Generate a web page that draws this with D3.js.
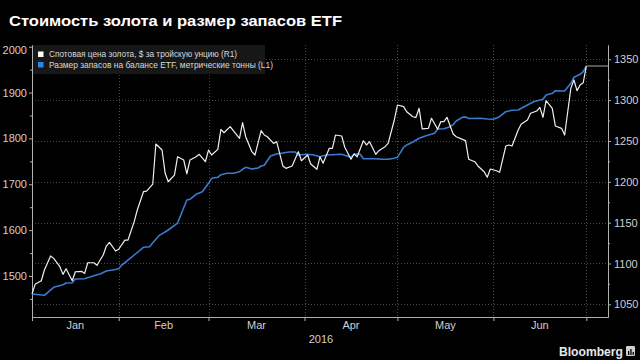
<!DOCTYPE html>
<html><head><meta charset="utf-8">
<script src="https://cdn.jsdelivr.net/npm/d3@7"></script>
<style>
html,body{margin:0;padding:0;background:#000;}
svg{display:block;font-family:"Liberation Sans",Arial,sans-serif;}
</style></head>
<body>
<svg id="c" width="640" height="360"></svg>
<script>
// ---------- data ----------
const titleText = "Стоимость золота и размер запасов ETF";
const legendGold = "Спотовая цена золота, $ за тройскую унцию (R1)";
const legendEtf = "Размер запасов на балансе ETF, метрические тонны (L1)";
const yearLabel = "2016";
const monthLabels = ["Jan","Feb","Mar","Apr","May","Jun"];
const monthStarts = ["2016-01-01","2016-02-01","2016-03-01","2016-04-01","2016-05-01","2016-06-01","2016-07-01"];
const leftTicks = [1500,1600,1700,1800,1900,2000];
const leftMinor = [1450,1550,1650,1750,1850,1950];
const rightTicks = [1050,1100,1150,1200,1250,1300,1350];
const rightMinor = [1075,1125,1175,1225,1275,1325];
const xDomain = ["2016-01-04","2016-07-08"];
const leftDomain = [1410.6, 2003.7];
const rightDomain = [1034.5, 1367.5];

const etfDates = ["01-04","01-08","01-11","01-14","01-15","01-17","01-18","01-21","01-23","01-25","01-26","01-28","01-30",
"02-01","02-02","02-03","02-05","02-06","02-09","02-11","02-12","02-14","02-17","02-20","02-23","02-24","02-26","02-28",
"03-01","03-02","03-04","03-05","03-07","03-09","03-11","03-12","03-13","03-15","03-17","03-18","03-19","03-21","03-23","03-25","03-27","03-29","03-30",
"04-02","04-04","04-06","04-08","04-13","04-14","04-16","04-17","04-19","04-20","04-24","04-26","04-28","04-30",
"05-01","05-03","05-04","05-06","05-08","05-10","05-13","05-14","05-16","05-18","05-19","05-20","05-22","05-23","05-24","05-28","05-30",
"06-01","06-03","06-05","06-07","06-09","06-12","06-14","06-17","06-18","06-20","06-21","06-23","06-24","06-26","06-27","06-29","06-30","07-01"];
const etfValues = [1460.7,1457.9,1475.4,1481.0,1484.7,1485.4,1493.5,1494.1,1498.5,1502.8,1504.4,1510.9,1513.1,
1516.0,1524.0,1529.0,1539.9,1545.8,1562.6,1563.9,1572.6,1587.9,1600.3,1615.5,1665.7,1667.2,1678.1,1683.8,
1702.1,1713.0,1715.2,1720.9,1723.9,1723.9,1727.4,1732.7,1737.0,1733.3,1735.5,1739.9,1741.4,1761.7,1766.0,1768.2,1770.4,1770.4,1763.8,
1765.4,1763.8,1760.1,1763.8,1765.4,1763.2,1758.8,1766.0,1765.4,1755.8,1755.8,1754.5,1754.5,1756.7,
1758.8,1780.6,1785.7,1792.2,1800.3,1805.3,1811.2,1820.5,1821.2,1825.6,1830.0,1838.0,1846.1,1847.0,1843.5,1843.9,1842.3,
1841.7,1847.4,1858.3,1861.3,1862.0,1872.9,1880.1,1885.3,1894.7,1898.4,1904.1,1903.4,1903.4,1920.2,1933.3,1939.8,1945.5,1957.9];

const goldDates = ["01-04","01-05","01-07","01-08","01-10","01-11","01-13","01-14","01-15","01-17","01-18","01-20","01-21","01-22","01-24","01-25","01-27","01-28","01-29","01-31",
"02-01","02-03","02-04","02-06","02-07","02-09","02-10","02-12","02-13","02-15","02-16","02-17","02-19","02-20","02-22","02-23","02-24","02-26","02-27","02-29",
"03-01","03-02","03-04","03-05","03-06","03-08","03-09","03-11","03-12","03-13","03-15","03-16","03-18","03-19","03-20","03-22","03-23","03-25","03-26","03-28","03-30","03-31",
"04-02","04-03","04-05","04-06","04-07","04-09","04-10","04-11","04-13","04-14","04-16","04-17","04-18","04-20","04-21","04-22","04-24","04-25","04-27","04-28","04-30",
"05-01","05-03","05-04","05-06","05-07","05-08","05-09","05-11","05-12","05-14","05-15","05-16","05-17","05-19","05-20","05-22","05-23","05-24","05-26","05-27","05-29","05-30","05-31",
"06-02","06-03","06-05","06-06","06-07","06-09","06-10","06-12","06-13","06-15","06-16","06-17","06-18","06-20","06-21","06-23","06-24","06-26","06-27","06-28","06-29","06-30","07-01"];
const goldValues = [1062.6,1074.5,1078.9,1092.0,1109.2,1106.3,1096.1,1086.7,1093.6,1078.9,1089.9,1090.4,1087.9,1100.9,1100.9,1097.8,1110.4,1121.4,1125.9,1115.3,
1117.4,1128.7,1128.7,1151.2,1165.5,1187.9,1188.7,1197.3,1246.3,1239.0,1210.4,1200.1,1208.3,1230.7,1226.7,1209.6,1226.7,1230.7,1233.7,1224.6,
1238.9,1232.8,1239.7,1264.3,1260.1,1267.5,1262.6,1253.3,1272.4,1255.2,1236.9,1232.8,1262.6,1257.3,1255.2,1247.1,1249.1,1219.4,1216.5,1219.4,1236.9,1225.8,
1232.8,1221.8,1215.3,1230.7,1222.7,1241.0,1241.0,1257.3,1256.1,1242.3,1227.6,1234.0,1230.7,1250.3,1245.1,1249.1,1233.7,1238.1,1243.0,1247.1,1275.7,
1294.0,1292.0,1285.8,1279.7,1279.0,1290.0,1264.7,1265.5,1277.8,1264.3,1273.6,1273.6,1279.0,1258.5,1255.2,1252.0,1250.5,1227.7,1224.6,1219.4,1212.4,1205.5,1215.7,
1213.6,1211.6,1243.8,1245.1,1243.8,1263.4,1270.8,1275.7,1283.9,1286.7,1291.2,1279.0,1299.3,1290.0,1268.3,1265.5,1257.3,1314.5,1324.7,1311.6,1318.5,1321.3,1341.8];

// ---------- chart ----------
const parse = d3.timeParse("%Y-%m-%d");
const pd = s => parse("2016-" + s);
const etf = etfDates.map((d,i)=>({date:pd(d), v:etfValues[i]}));
const gold = goldDates.map((d,i)=>({date:pd(d), v:goldValues[i]}));

const L = 32, R = 608, T = 45, B = 317;
const svg = d3.select("#c");
svg.append("rect").attr("width",640).attr("height",360).attr("fill","#000");

const x = d3.scaleTime().domain(xDomain.map(parse)).range([L,R]);
const yL = d3.scaleLinear().domain(leftDomain).range([B,T]);
const yR = d3.scaleLinear().domain(rightDomain).range([B,T]);
const months = monthStarts.map(parse);

// title
svg.append("text").attr("x",9).attr("y",26).attr("fill","#fff")
  .attr("font-size",15).attr("font-weight","bold")
  .attr("textLength",333).attr("lengthAdjust","spacingAndGlyphs").text(titleText);

// gridlines
const grid = svg.append("g").attr("stroke","#4a4a4a").attr("stroke-width",1).attr("stroke-dasharray","1,2");
rightTicks.forEach(t=>{
  grid.append("line").attr("x1",L).attr("x2",R).attr("y1",Math.round(yR(t))+0.5).attr("y2",Math.round(yR(t))+0.5);
});
months.slice(1).forEach(m=>{
  const xx = Math.round(x(m))+0.5;
  grid.append("line").attr("x1",xx).attr("x2",xx).attr("y1",T).attr("y2",B);
});

// legend
const lg = svg.append("g");
lg.append("rect").attr("x",33).attr("y",45).attr("width",232).attr("height",29).attr("fill","#171717");
lg.append("rect").attr("x",38).attr("y",51.5).attr("width",5.5).attr("height",5.5).attr("fill","#fff");
lg.append("rect").attr("x",38).attr("y",62).attr("width",5.5).attr("height",5.5).attr("fill","#2b8ae8");
lg.append("text").attr("x",49).attr("y",57).attr("fill","#d8d8d8").attr("font-size",9)
  .attr("textLength",188).attr("lengthAdjust","spacingAndGlyphs").text(legendGold);
lg.append("text").attr("x",49).attr("y",67.5).attr("fill","#d8d8d8").attr("font-size",9)
  .attr("textLength",224).attr("lengthAdjust","spacingAndGlyphs").text(legendEtf);

// axes
const axisColor = "#b0b0b0", labelColor = "#d0d0d0";
function styleAxis(g){
  g.select(".domain").attr("stroke",axisColor);
  g.selectAll(".tick line").attr("stroke",axisColor);
  g.selectAll(".tick text").attr("fill",labelColor).attr("font-size",11).attr("font-family","Liberation Sans, Arial, sans-serif");
}
const gl = svg.append("g").attr("transform",`translate(${L},0)`)
  .call(d3.axisLeft(yL).tickValues(leftTicks).tickSize(3).tickPadding(2).tickSizeOuter(0).tickFormat(d3.format("d")));
styleAxis(gl);
gl.selectAll(".tick text").filter(d=>d===2000).attr("dy","0.65em");
const glm = svg.append("g").attr("transform",`translate(${L},0)`)
  .call(d3.axisLeft(yL).tickValues(leftMinor).tickSize(2).tickSizeOuter(0).tickFormat(""));
styleAxis(glm);

const gr = svg.append("g").attr("transform",`translate(${R},0)`)
  .call(d3.axisRight(yR).tickValues(rightTicks).tickSize(3).tickPadding(3).tickSizeOuter(0).tickFormat(d3.format("d")));
styleAxis(gr);
const grm = svg.append("g").attr("transform",`translate(${R},0)`)
  .call(d3.axisRight(yR).tickValues(rightMinor).tickSize(2).tickSizeOuter(0).tickFormat(""));
styleAxis(grm);

const gx = svg.append("g").attr("transform",`translate(0,${B})`)
  .call(d3.axisBottom(x).tickValues([x.domain()[0]].concat(months.slice(1))).tickSize(4).tickSizeOuter(0).tickFormat(""));
styleAxis(gx);

// month labels centred in month spans
monthLabels.forEach((lab,i)=>{
  const a = Math.max(x(months[i]), L), b = x(months[i+1]);
  svg.append("text").attr("x",(a+b)/2).attr("y",329).attr("text-anchor","middle")
    .attr("fill",labelColor).attr("font-size",11).text(lab);
});
svg.append("text").attr("x",(L+R)/2 + 1).attr("y",343).attr("text-anchor","middle")
  .attr("fill",labelColor).attr("font-size",11).text(yearLabel);

// lines
const lineL = d3.line().x(d=>x(d.date)).y(d=>yL(d.v));
const lineR = d3.line().x(d=>x(d.date)).y(d=>yR(d.v));
svg.append("path").datum(etf).attr("d",lineL).attr("fill","none").attr("stroke","#3a7bd0").attr("stroke-width",1.6).attr("stroke-linejoin","round");
svg.append("path").datum(gold).attr("d",lineR).attr("fill","none").attr("stroke","#f0f0f0").attr("stroke-width",1.2).attr("stroke-linejoin","round");

// last-value line
const last = gold[gold.length-1];
svg.append("line").attr("x1",x(last.date)).attr("x2",R).attr("y1",yR(last.v)).attr("y2",yR(last.v))
  .attr("stroke","#a8a8a8").attr("stroke-width",1);

// Bloomberg mark
svg.append("text").attr("x",623).attr("y",356).attr("text-anchor","end").attr("fill","#e8e8e8")
  .attr("font-size",12).attr("font-weight","bold").attr("textLength",64).attr("lengthAdjust","spacingAndGlyphs").text("Bloomberg");
const ic = svg.append("g");
ic.append("rect").attr("x",626).attr("y",346).attr("width",9).attr("height",10).attr("rx",1).attr("fill","#cfcfcf");
[[628,351,1.3,4],[630.3,349,1.3,6],[632.6,352,1.3,3]].forEach(r=>{
  ic.append("rect").attr("x",r[0]).attr("y",r[1]).attr("width",r[2]).attr("height",r[3]).attr("fill","#000");
});
</script>
</body></html>
